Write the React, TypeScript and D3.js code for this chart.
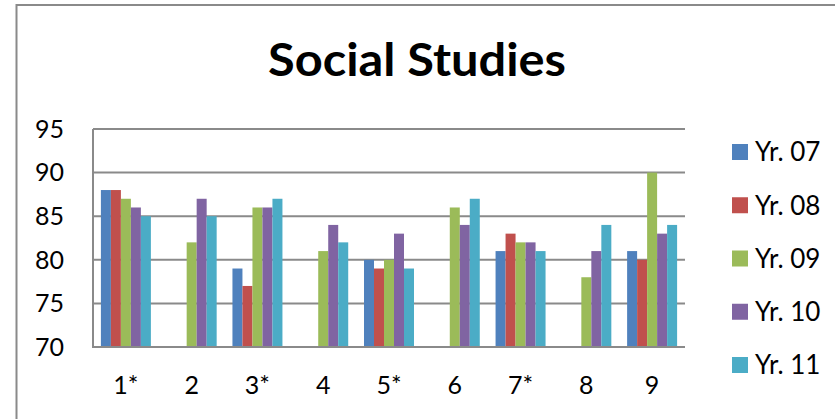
import React, { useRef, useEffect } from "react";
import * as d3 from "d3";

const WIDTH = 835;
const HEIGHT = 419;
const PLOT = { left: 93, right: 685, top: 129, bottom: 347 };

const categories = ["1*", "2", "3*", "4", "5*", "6", "7*", "8", "9"];
const seriesNames = ["Yr. 07", "Yr. 08", "Yr. 09", "Yr. 10", "Yr. 11"];
const colors = ["#4F81BD", "#C0504D", "#9BBB59", "#8064A2", "#4BACC6"];

const yr07 = [88, null, 79, null, 80, null, 81, null, 81];
const yr08 = [88, null, 77, null, 79, null, 83, null, 80];
const yr09 = [87, 82, 86, 81, 80, 86, 82, 78, 90];
const yr10 = [86, 87, 86, 84, 83, 84, 82, 81, 83];
const yr11 = [85, 85, 87, 82, 79, 87, 81, 84, 84];

const yTicks = [70, 75, 80, 85, 90, 95];

const FONT = "Lato, 'Open Sans', sans-serif";

export default function App() {
  const svgRef = useRef<SVGSVGElement | null>(null);

  useEffect(() => {
    const svg = d3.select(svgRef.current);
    svg.selectAll("*").remove();

    const series = [yr07, yr08, yr09, yr10, yr11];

    // chart frame
    svg
      .append("path")
      .attr("d", `M16.5,${HEIGHT} L16.5,5 L${WIDTH},5`)
      .attr("fill", "none")
      .attr("stroke", "#8a8a8a")
      .attr("stroke-width", 2);

    // title
    svg
      .append("text")
      .attr("x", 417)
      .attr("y", 76)
      .attr("text-anchor", "middle")
      .attr("font-family", FONT)
      .attr("font-weight", "bold")
      .attr("font-size", 46)
      .attr("textLength", 298)
      .attr("lengthAdjust", "spacingAndGlyphs")
      .text("Social Studies");

    // scales
    const y = d3.scaleLinear().domain([70, 95]).range([PLOT.bottom, PLOT.top]);
    const x0 = d3
      .scaleBand<string>()
      .domain(categories)
      .range([PLOT.left, PLOT.right])
      .paddingInner(0.24)
      .paddingOuter(0.12);
    const x1 = d3
      .scaleBand<string>()
      .domain(seriesNames)
      .range([0, x0.bandwidth()]);

    // grid
    svg
      .append("g")
      .selectAll("line")
      .data(yTicks.filter((t) => t !== 70))
      .enter()
      .append("line")
      .attr("x1", PLOT.left)
      .attr("x2", PLOT.right)
      .attr("y1", (d) => y(d))
      .attr("y2", (d) => y(d))
      .attr("stroke", "#8a8a8a")
      .attr("stroke-width", 2);

    // bars
    series.forEach((vals, si) => {
      svg
        .append("g")
        .selectAll("rect")
        .data(vals.map((v, i) => ({ v, c: categories[i] })).filter((d) => d.v != null))
        .enter()
        .append("rect")
        .attr("x", (d) => (x0(d.c) as number) + (x1(seriesNames[si]) as number))
        .attr("y", (d) => y(d.v as number))
        .attr("width", x1.bandwidth())
        .attr("height", (d) => PLOT.bottom - y(d.v as number))
        .attr("fill", colors[si]);
    });

    // axes lines
    svg
      .append("path")
      .attr("d", `M${PLOT.left},${PLOT.top} L${PLOT.left},${PLOT.bottom} L${PLOT.right},${PLOT.bottom}`)
      .attr("fill", "none")
      .attr("stroke", "#8a8a8a")
      .attr("stroke-width", 2);

    // y tick labels
    svg
      .append("g")
      .selectAll("text")
      .data(yTicks)
      .enter()
      .append("text")
      .attr("x", 64)
      .attr("y", (d) => y(d))
      .attr("dy", "0.35em")
      .attr("text-anchor", "end")
      .attr("font-family", FONT)
      .attr("font-size", 25)
      .text((d) => d);

    // x labels
    svg
      .append("g")
      .selectAll("text")
      .data(categories)
      .enter()
      .append("text")
      .attr("x", (d) => (x0(d) as number) + x0.bandwidth() / 2)
      .attr("y", 394)
      .attr("text-anchor", "middle")
      .attr("font-family", FONT)
      .attr("font-size", 25)
      .text((d) => d);

    // legend
    const ly = d3.scalePoint<string>().domain(seriesNames).range([152, 365]);
    const leg = svg
      .append("g")
      .selectAll("g")
      .data(seriesNames)
      .enter()
      .append("g")
      .attr("transform", (d) => `translate(732,${ly(d)})`);
    leg
      .append("rect")
      .attr("x", 0)
      .attr("y", -8)
      .attr("width", 16)
      .attr("height", 16)
      .attr("fill", (d, i) => colors[i]);
    leg
      .append("text")
      .attr("x", 23)
      .attr("y", 0)
      .attr("dy", "0.36em")
      .attr("font-family", FONT)
      .attr("font-size", 26)
      .text((d) => d);
  }, []);

  return (
    <svg
      ref={svgRef}
      width={WIDTH}
      height={HEIGHT}
      style={{ position: "absolute", left: 0, top: 0, background: "#fff" }}
    />
  );
}
